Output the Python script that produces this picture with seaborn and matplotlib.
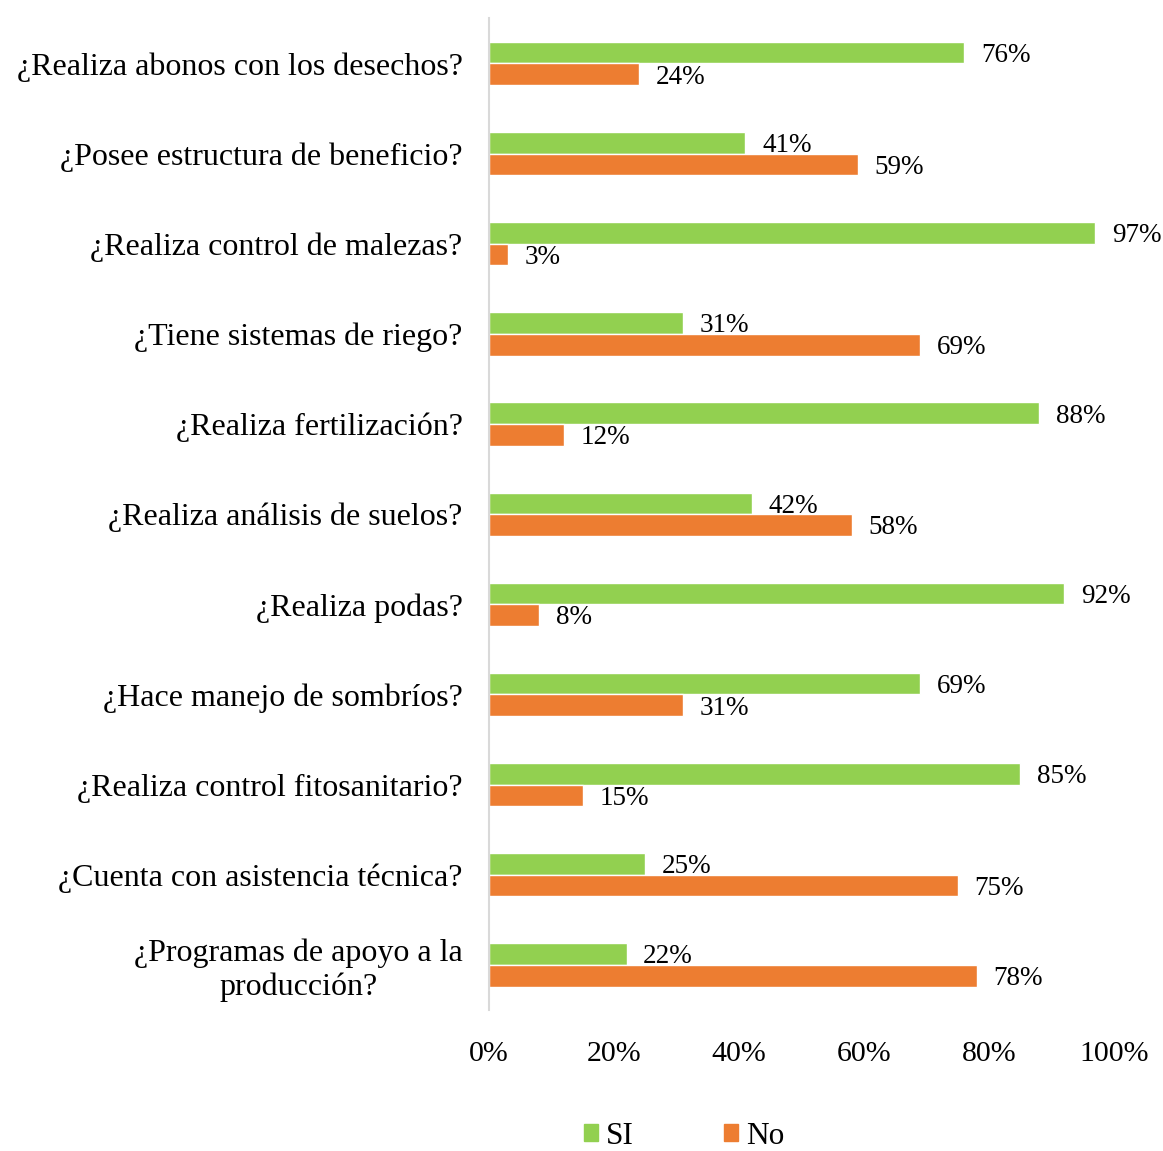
import pandas as pd
import matplotlib
matplotlib.use("Agg")
import matplotlib.pyplot as plt
import seaborn as sns
from matplotlib.patches import Patch

preguntas = [
    "¿Realiza abonos con los desechos?",
    "¿Posee estructura de beneficio?",
    "¿Realiza control de malezas?",
    "¿Tiene sistemas de riego?",
    "¿Realiza fertilización?",
    "¿Realiza análisis de suelos?",
    "¿Realiza podas?",
    "¿Hace manejo de sombríos?",
    "¿Realiza control fitosanitario?",
    "¿Cuenta con asistencia técnica?",
    "¿Programas de apoyo a la\nproducción?",
]
si = [76, 41, 97, 31, 88, 42, 92, 69, 85, 25, 22]
no = [24, 59, 3, 69, 12, 58, 8, 31, 15, 75, 78]
series = ["SI", "No"]
colores = ["#92D050", "#ED7D31"]

df = pd.DataFrame({
    "pregunta": preguntas * 2,
    "valor": si + no,
    "serie": ["SI"] * len(si) + ["No"] * len(no),
})

sns.set_style("white")
plt.rcParams["font.family"] = ["Liberation Serif", "DejaVu Serif"]
plt.rcParams["text.color"] = "black"
plt.rcParams["xtick.color"] = "black"
plt.rcParams["ytick.color"] = "black"

fig = plt.figure(figsize=(11.63, 11.51), dpi=100)
ax = fig.add_axes([0.4205, 0.1225, 0.5375, 0.8615])

sns.barplot(data=df, x="valor", y="pregunta", hue="serie", hue_order=series,
            palette=colores, orient="h", width=0.48, saturation=1,
            legend=False, ax=ax)

for cont in ax.containers:
    textos = ax.bar_label(cont, labels=[f"{v:.0f}%" for v in cont.datavalues],
                          padding=12, fontsize=19.5, color="black")
    for t in textos:
        t.xyann = (12, -2)

ax.set_xlim(0, 100)
ax.set_xticks(range(0, 101, 20))
ax.set_xticklabels([f"{t}%" for t in range(0, 101, 20)], fontsize=21.5)
ax.tick_params(axis="x", length=0, pad=22, labelcolor="black")
ax.tick_params(axis="y", length=0, pad=19, labelsize=23, labelcolor="black")
for lab in ax.get_yticklabels():
    lab.set_multialignment("center")
ax.set_xlabel("")
ax.set_ylabel("")
for s in ["top", "right", "bottom"]:
    ax.spines[s].set_visible(False)
ax.spines["left"].set_color("#D9D9D9")
ax.spines["left"].set_linewidth(1.5)

handles = [Patch(color=c, label=s) for s, c in zip(series, colores)]
fig.legend(handles=handles, loc="center", bbox_to_anchor=(684 / 1163, 1 - 1136 / 1151),
           ncol=2, frameon=False, fontsize=22.5, handlelength=0.45, handleheight=0.45,
           handletextpad=0.25, columnspacing=2.9, borderpad=0.2, labelcolor="black")

fig.savefig("out.png", dpi=100)
